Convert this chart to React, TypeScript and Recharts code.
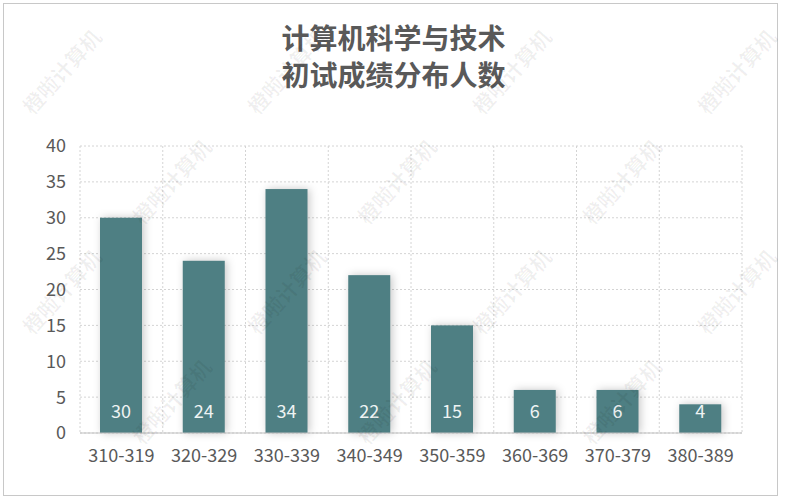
import React from "react";
import { BarChart, Bar, XAxis, YAxis, CartesianGrid, LabelList } from "recharts";

const categories = ["310-319", "320-329", "330-339", "340-349", "350-359", "360-369", "370-379", "380-389"];
const counts = [30, 24, 34, 22, 15, 6, 6, 4];
const yTicks = [0, 5, 10, 15, 20, 25, 30, 35, 40];
const titleLines = ["计算机科学与技术", "初试成绩分布人数"];
const watermarkText = "橙啦计算机";

const data = categories.map((c, i) => ({ range: c, count: counts[i] }));

const W = 787;
const H = 500;
const PLOT = { left: 80, right: 742, top: 146, bottom: 433 };
const BAR_COLOR = "#4E7F83";
const TEXT_COLOR = "#595959";
const FONT = "'Noto Sans CJK SC', 'Open Sans', sans-serif";

const ShadowBar = (props: any) => {
  const { x, y, width, height } = props;
  if (!height || height <= 0) return null;
  return (
    <rect
      x={x}
      y={y}
      width={width}
      height={height}
      fill={BAR_COLOR}
      style={{ filter: "drop-shadow(2px 0px 4px rgba(0,0,0,0.22))" }}
    />
  );
};

// Faint diagonal watermark tiles, kept inside the card
const watermarks: { x: number; y: number }[] = [];
for (let row = 0; row < 5; row++) {
  for (let col = 0; col < 4; col++) {
    const x = col * 225 + (row % 2 === 0 ? 15 : 125);
    const y = row * 110 + 100;
    if (x + 95 < W && y < H) watermarks.push({ x, y });
  }
}

export default function App() {
  const n = categories.length;
  const step = (PLOT.right - PLOT.left) / n;
  return (
    <div style={{ position: "absolute", left: 0, top: 0, width: W, height: H, background: "#fff", overflow: "hidden", fontFamily: FONT }}>
      <div
        style={{
          position: "absolute",
          left: 3,
          top: 3,
          width: 775,
          height: 493,
          border: "1px solid #c8c8c8",
          boxSizing: "border-box",
        }}
      />
      {titleLines.map((t, i) => (
        <div
          key={t}
          style={{
            position: "absolute",
            left: 0,
            top: 22 + i * 37,
            width: W,
            height: 30,
            textAlign: "center",
            color: TEXT_COLOR,
            fontSize: 28,
            fontWeight: 700,
            lineHeight: "30px",
          }}
        >
          {t}
        </div>
      ))}
      <div style={{ position: "absolute", left: 0, top: 0 }}>
        <BarChart
          width={W}
          height={H}
          data={data}
          margin={{ top: PLOT.top, right: W - PLOT.right, bottom: 35, left: 0 }}
        >
          <CartesianGrid
            stroke="#d4d4d4"
            strokeDasharray="2 2"
            verticalCoordinatesGenerator={() =>
              Array.from({ length: n + 1 }, (_, i) => PLOT.left + i * step)
            }
          />
          <XAxis
            dataKey="range"
            height={32}
            axisLine={{ stroke: "#bfbfbf" }}
            tickLine={false}
            tick={{ fill: TEXT_COLOR, fontSize: 18, fontFamily: FONT }}
            tickMargin={10}
            interval={0}
          />
          <YAxis
            width={PLOT.left}
            domain={[0, 40]}
            ticks={yTicks}
            axisLine={false}
            tickLine={false}
            tick={{ fill: TEXT_COLOR, fontSize: 18, fontFamily: FONT }}
            tickMargin={8}
          />
          <Bar dataKey="count" barSize={42} shape={<ShadowBar />} isAnimationActive={false}>
            <LabelList
              dataKey="count"
              position="insideBottom"
              offset={15}
              fill="#eef3f3"
              fontSize={18}
              fontFamily={FONT}
            />
          </Bar>
        </BarChart>
      </div>
      <div style={{ position: "absolute", left: 0, top: 0, width: W, height: H, pointerEvents: "none" }}>
        {watermarks.map((w, i) => (
          <div
            key={i}
            style={{
              position: "absolute",
              left: w.x,
              top: w.y,
              fontSize: 21,
              fontWeight: 700,
              color: "rgba(0,0,0,0.06)",
              transform: "rotate(-48deg)",
              transformOrigin: "left top",
              whiteSpace: "nowrap",
            }}
          >
            {watermarkText}
          </div>
        ))}
      </div>
    </div>
  );
}
